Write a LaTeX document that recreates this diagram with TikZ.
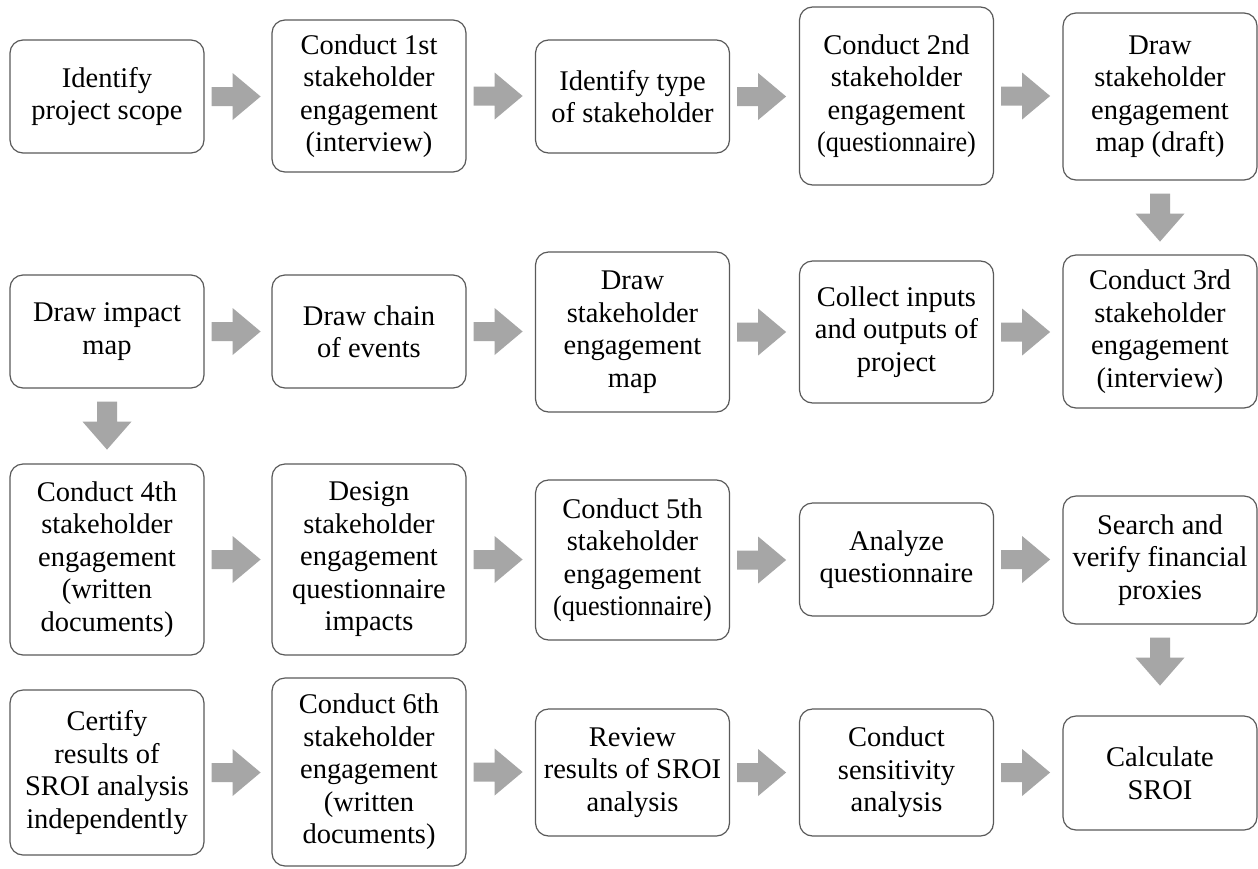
\documentclass[tikz,border=0pt]{standalone}
\usepackage{fontspec}
\usepackage{graphicx}
\setmainfont{Liberation Serif}
\usetikzlibrary{calc}
\definecolor{boxline}{HTML}{5A5A5A}
\definecolor{arrowgray}{HTML}{A6A6A6}
\newcommand{\narrowline}[1]{\scalebox{0.92}[1]{#1}}

\begin{document}
\begin{tikzpicture}[x=1pt,y=-1pt,
  stepbox/.style={draw=boxline, line width=1.2pt, rounded corners=13pt,
    fill=white, align=center, minimum width=194pt, inner sep=0pt,
    font=\fontsize{28.5}{32.5}\selectfont},
  % block arrow pointing right, measured from the source node's east side
  rarrow/.style={fill=arrowgray, draw=none,
    to path={let \p1=(\tikztostart) in
      (\x1+7pt,\y1+9.5pt) -- (\x1+28pt,\y1+9.5pt) -- (\x1+28pt,\y1+23.5pt)
      -- (\x1+56pt,\y1) -- (\x1+28pt,\y1-23.5pt) -- (\x1+28pt,\y1-9.5pt)
      -- (\x1+7pt,\y1-9.5pt) -- cycle}},
  % block arrow pointing down, measured from the source node's south side
  darrow/.style={fill=arrowgray, draw=none,
    to path={let \p1=(\tikztostart) in
      (\x1-10pt,\y1-13pt) -- (\x1+10pt,\y1-13pt) -- (\x1+10pt,\y1-33pt)
      -- (\x1+24.5pt,\y1-33pt) -- (\x1,\y1-61pt) -- (\x1-24.5pt,\y1-33pt)
      -- (\x1-10pt,\y1-33pt) -- cycle}},
]
\useasboundingbox (0,0) rectangle (1258,868);
\fill[white] (0,0) rectangle (1258,868);

% row 1
\node[stepbox, minimum height=113pt] (b11) at (107,96.5) {Identify\\project scope};
\node[stepbox, minimum height=152pt] (b12) at (369,96) {Conduct 1st\\stakeholder\\engagement\\(interview)};
\node[stepbox, minimum height=113pt] (b13) at (632.5,96.5) {Identify type\\of stakeholder};
\node[stepbox, minimum height=178pt] (b14) at (896.5,96) {Conduct 2nd\\stakeholder\\engagement\\\narrowline{(questionnaire)}};
\node[stepbox, minimum height=167pt] (b15) at (1160,96.5) {Draw\\stakeholder\\engagement\\map (draft)};

% row 2
\node[stepbox, minimum height=113pt] (b21) at (107,331.5) {Draw impact\\map};
\node[stepbox, minimum height=113pt] (b22) at (369,331.5) {Draw chain\\of events};
\node[stepbox, minimum height=160pt] (b23) at (632.5,332) {Draw\\stakeholder\\engagement\\map};
\node[stepbox, minimum height=142pt] (b24) at (896.5,332) {Collect inputs\\and outputs of\\project};
\node[stepbox, minimum height=153pt] (b25) at (1160,331.5) {Conduct 3rd\\stakeholder\\engagement\\(interview)};

% row 3
\node[stepbox, minimum height=191pt] (b31) at (107,559.5) {Conduct 4th\\stakeholder\\engagement\\(written\\documents)};
\node[stepbox, minimum height=191pt] (b32) at (369,559.5) {Design\\stakeholder\\engagement\\questionnaire\\impacts};
\node[stepbox, minimum height=160pt] (b33) at (632.5,560) {Conduct 5th\\stakeholder\\engagement\\\narrowline{(questionnaire)}};
\node[stepbox, minimum height=113pt] (b34) at (896.5,559.5) {Analyze\\questionnaire};
\node[stepbox, minimum height=128pt] (b35) at (1160,560) {Search and\\verify financial\\proxies};

% row 4
\node[stepbox, minimum height=165pt] (b41) at (107,772.5) {Certify\\results of\\SROI analysis\\independently};
\node[stepbox, minimum height=188pt] (b42) at (369,772) {Conduct 6th\\stakeholder\\engagement\\(written\\documents)};
\node[stepbox, minimum height=127pt] (b43) at (632.5,772.5) {Review\\results of SROI\\analysis};
\node[stepbox, minimum height=127pt] (b44) at (896.5,772.5) {Conduct\\sensitivity\\analysis};
\node[stepbox, minimum height=114pt] (b45) at (1160,773) {Calculate\\SROI};

% connectors
\path[rarrow] (b11.east) to (b12.west);
\path[rarrow] (b12.east) to (b13.west);
\path[rarrow] (b13.east) to (b14.west);
\path[rarrow] (b14.east) to (b15.west);
\path[darrow] (b15.south) to (b25.north);

\path[rarrow] (b21.east) to (b22.west);
\path[rarrow] (b22.east) to (b23.west);
\path[rarrow] (b23.east) to (b24.west);
\path[rarrow] (b24.east) to (b25.west);
\path[darrow] (b21.south) to (b31.north);

\path[rarrow] (b31.east) to (b32.west);
\path[rarrow] (b32.east) to (b33.west);
\path[rarrow] (b33.east) to (b34.west);
\path[rarrow] (b34.east) to (b35.west);
\path[darrow] (b35.south) to (b45.north);

\path[rarrow] (b41.east) to (b42.west);
\path[rarrow] (b42.east) to (b43.west);
\path[rarrow] (b43.east) to (b44.west);
\path[rarrow] (b44.east) to (b45.west);
\end{tikzpicture}
\end{document}
